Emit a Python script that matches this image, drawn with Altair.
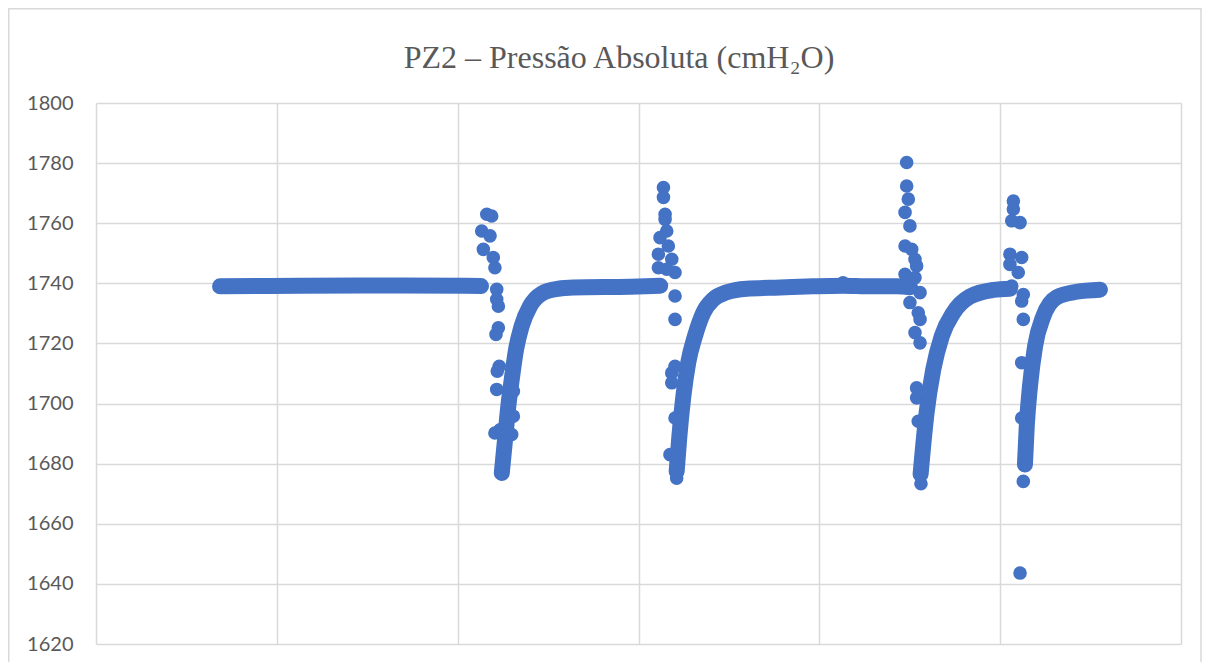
import altair as alt
import pandas as pd

# ---- continuous bands (dense runs of readings), x in grid units (gridlines every 100)
band_seg = (["A"] * 4 + ["B"] * 12 + ["C"] * 15 + ["D"] * 8 + ["E"] * 8)
band_x = [
    68.6, 112.8, 168.1, 212.9,
    224.4, 226.2, 228.0, 229.9, 232.3, 235.4, 240.0, 246.5, 255.7, 264.0, 295.3, 312.0,
    321.1, 322.6, 324.8, 327.5, 331.2, 335.8, 341.4, 348.8, 359.8, 378.3, 396.5, 413.1, 428.0, 442.8, 450.1,
    456.0, 459.3, 463.0, 467.7, 474.1, 483.3, 496.2, 505.4,
    513.7, 514.7, 516.5, 519.3, 523.9, 531.3, 542.3, 555.2,
]
band_y = [
    1739.0, 1739.2, 1739.3, 1739.1,
    1676.9, 1688.0, 1699.1, 1708.0, 1718.0, 1725.8, 1732.4, 1736.6, 1738.2, 1738.6, 1738.9, 1739.2,
    1677.4, 1689.1, 1702.4, 1713.6, 1722.4, 1730.2, 1734.7, 1737.0, 1738.2, 1738.6, 1739.0, 1739.2, 1739.0, 1739.0, 1738.7,
    1676.5, 1696.9, 1711.3, 1722.4, 1730.2, 1735.6, 1737.8, 1738.2,
    1679.7, 1692.4, 1705.8, 1719.1, 1729.1, 1735.4, 1737.2, 1737.9,
]

# ---- scattered readings around each event
pt_x = [
    216.1, 218.8, 213.3, 217.9, 214.2, 219.7, 220.6, 221.6, 221.6, 222.5, 222.5, 221.2, 223.0, 221.9, 221.6,
    220.6, 223.4, 229.9, 224.4, 230.8, 230.8,
    313.8, 313.8, 314.7, 314.7, 315.6, 311.9, 316.5, 311.0, 318.4, 311.0, 320.2, 315.6, 320.2, 320.2, 320.2,
    318.4, 318.4, 320.2, 317.4, 321.1, 413.1,
    448.3, 448.3, 449.2, 447.4, 450.1, 447.4, 451.1, 452.9, 453.8, 447.4, 452.9, 455.7, 450.1, 454.7, 455.7,
    452.9, 455.7, 453.8, 453.8, 454.7, 456.2,
    507.3, 507.3, 506.4, 511.0, 505.4, 511.9, 505.4, 510.0, 506.4, 512.8, 511.9, 512.8, 511.9, 511.9, 512.8, 511.0,
]
pt_y = [
    1763.0, 1762.4, 1757.4, 1755.8, 1751.3, 1748.6, 1745.2, 1738.0, 1734.7, 1732.4, 1725.2, 1723.0, 1712.4, 1710.8, 1704.7,
    1690.2, 1691.3, 1689.7, 1676.9, 1704.1, 1695.8,
    1771.9, 1768.6, 1763.0, 1761.3, 1757.4, 1755.2, 1752.4, 1749.7, 1748.0, 1745.2, 1743.6, 1744.7, 1735.8, 1728.0, 1712.4,
    1710.2, 1706.9, 1695.2, 1683.0, 1675.2, 1740.2,
    1780.2, 1772.4, 1768.0, 1763.6, 1759.1, 1752.4, 1751.3, 1748.0, 1745.8, 1743.0, 1741.9, 1736.9, 1733.6, 1730.2, 1728.0,
    1723.6, 1720.2, 1705.2, 1701.9, 1694.1, 1673.3,
    1767.4, 1764.7, 1760.8, 1760.2, 1749.7, 1748.6, 1746.3, 1743.6, 1739.1, 1736.3, 1734.1, 1728.0, 1713.6, 1695.2, 1674.1, 1643.6,
]

y_ticks = [1620, 1640, 1660, 1680, 1700, 1720, 1740, 1760, 1780, 1800]
x_ticks = [0, 100, 200, 300, 400, 500, 600]
title_text = "PZ2 \u2013  Pressão Absoluta (cmH\u2082O)"

BLUE = "#4472C4"
GRID = "#D9D9D9"
TXT = "#595959"

band_df = pd.DataFrame({"seg": band_seg, "x": band_x, "y": band_y})
pt_df = pd.DataFrame({"x": pt_x, "y": pt_y})
one = pd.DataFrame({"k": [0]})

xs = alt.Scale(domain=[0, 600], nice=False, zero=False)
ys = alt.Scale(domain=[1620, 1800], nice=False, zero=False)
xax = alt.Axis(values=x_ticks, labels=False, ticks=False, domain=False, grid=True,
               gridColor=GRID, gridWidth=1.5, title="")
yax = alt.Axis(values=y_ticks, format="d", ticks=False, domain=False, grid=True, gridColor=GRID,
               gridWidth=1.5, labelFont="Lato", labelFontSize=20, labelColor=TXT,
               labelPadding=23, title="")

band = alt.Chart(band_df).mark_line(
    color=BLUE, strokeWidth=16, strokeCap="round", strokeJoin="round",
    interpolate="monotone"
).encode(
    x=alt.X("x:Q", scale=xs, axis=xax),
    y=alt.Y("y:Q", scale=ys, axis=yax),
    detail="seg:N",
)

pts = alt.Chart(pt_df).mark_circle(color=BLUE, size=185, opacity=1).encode(
    x=alt.X("x:Q", scale=xs),
    y=alt.Y("y:Q", scale=ys),
)

title = alt.Chart(one).mark_text(
    text=title_text, font="Liberation Serif", fontSize=32, color=TXT,
    align="center", baseline="alphabetic"
).encode(x=alt.value(523), y=alt.value(-35))

frame = alt.Chart(one).mark_rect(
    filled=False, stroke=GRID, strokeWidth=1.5
).encode(x=alt.value(-87.25), x2=alt.value(1105), y=alt.value(-94.25), y2=alt.value(575))

chart = alt.layer(frame, band, pts, title).properties(
    width=1085, height=541,
    autosize=alt.AutoSizeParams(type="none"),
    padding={"left": 88, "top": 95, "right": 21, "bottom": 18},
    background="white",
).configure_view(strokeWidth=0)

chart.save("out.html", embed_options={"renderer": "svg", "actions": False})
